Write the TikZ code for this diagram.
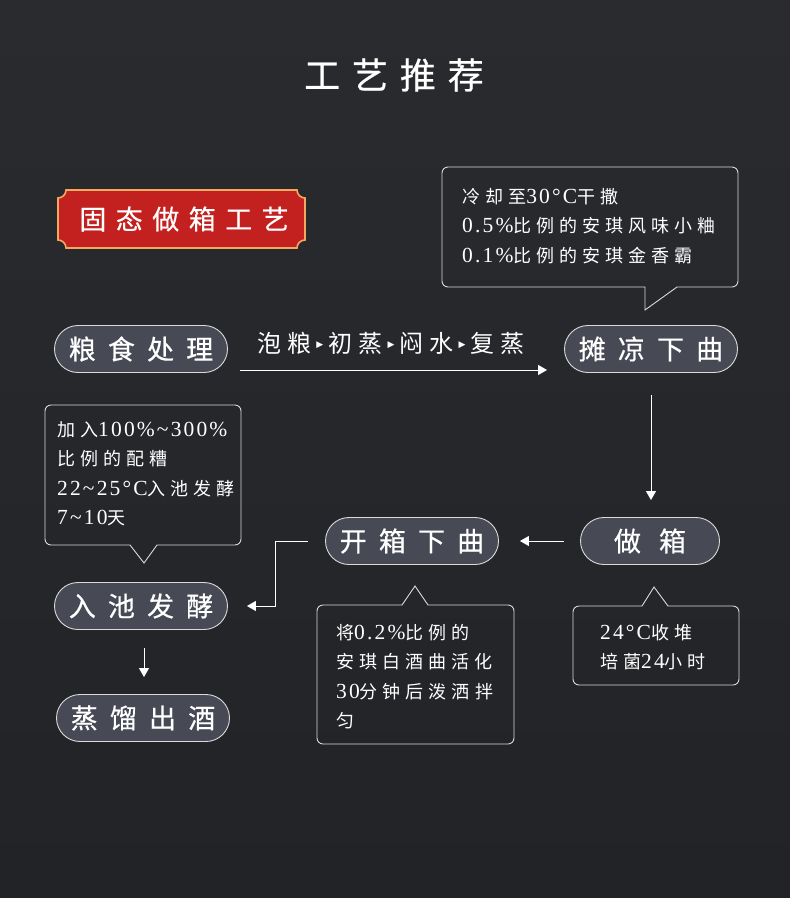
\documentclass[tikz,border=0pt]{standalone}
\usepackage{fontspec}
\setmainfont{Noto Sans CJK SC}
\newfontfamily\symfont{DejaVu Sans}
\newfontfamily\numfont[LetterSpace=10]{Liberation Serif}
\newcommand\nm[1]{{\numfont\fontsize{21.5}{29.5}\selectfont #1}}
\newcommand\tri{\hspace{5pt}\raisebox{5pt}{\symfont\fontsize{9}{9}\selectfont ▶}\hspace{5pt}}
\usepackage{tikz}
\usetikzlibrary{arrows.meta,shapes.misc}
\definecolor{bgtop}{HTML}{2A2B2F}
\definecolor{bgbot}{HTML}{222327}
\definecolor{pillgray}{HTML}{474A55}
\definecolor{linegray}{HTML}{DADADA}
\definecolor{sealred}{HTML}{C3211F}
\definecolor{sealedge}{HTML}{F3A862}

\begin{document}
\begin{tikzpicture}[x=1pt, y=-1pt,
  pill/.style={rounded rectangle, draw=linegray, line width=0.9pt, fill=pillgray, text=white,
    minimum width=173pt, minimum height=47pt, inner sep=0pt,
    font=\fontsize{27}{27}\selectfont\addfontfeature{LetterSpace=45,FakeBold=0.6}},
  arr/.style={draw=white, line width=1pt, -{Triangle[length=9pt,width=10pt]}},
  note/.style={text=white, align=left, anchor=north west, inner sep=0pt,
    font=\fontsize{18}{29.5}\selectfont\addfontfeature{LetterSpace=28}},
  bubble/.style={draw=linegray, line width=0.9pt}]
\shade[top color=bgtop, bottom color=bgbot] (0,0) rectangle (790,898);
\useasboundingbox (0,0) rectangle (790,898);

\node[text=white, font=\fontsize{36}{36}\selectfont\addfontfeature{LetterSpace=33,FakeBold=0.6}] (title) at (394,75) {工艺推荐};

\filldraw[fill=sealred, draw=sealedge, line width=1.6pt]
  (66,190) -- (297,190) .. controls (297,194.4) and (300.6,198) .. (305,198)
  -- (305,240) .. controls (300.6,240) and (297,243.6) .. (297,248)
  -- (66,248) .. controls (66,243.6) and (62.4,240) .. (58,240)
  -- (58,198) .. controls (62.4,198) and (66,194.4) .. (66,190) -- cycle;
\node[text=white, font=\fontsize{27}{27}\selectfont\addfontfeature{LetterSpace=35,FakeBold=0.4}] (seal) at (184,219) {固态做箱工艺};

\node[pill] (A) at (141,349) {粮食处理};
\node[pill] (B) at (651,349) {摊凉下曲};
\node[pill, minimum width=139pt] (C) at (650,541) {做\hspace{18pt}箱};
\node[pill] (D) at (412,541) {开箱下曲};
\node[pill] (E) at (141,606) {入池发酵};
\node[pill] (F) at (143,718) {蒸馏出酒};

\node[text=white, font=\fontsize{24}{24}\selectfont\addfontfeature{LetterSpace=26}] (steps) at (391,343)
  {泡粮\tri 初蒸\tri 闷水\tri 复蒸};

\draw[arr] ([xshift=12pt,yshift=-21pt]A.east) -- ([xshift=-17pt,yshift=-21pt]B.west);
\draw[arr, shorten <=22pt, shorten >=17pt] (B.south) -- (B.south |- C.north);
\draw[arr, shorten <=16pt, shorten >=21pt] (C.west) -- (D.east);
\draw[arr, shorten >=19pt] ([xshift=-17pt]D.west) -- ++(-33,0) |- (E.east);
\draw[arr, shorten <=18pt, shorten >=17pt] ([xshift=3pt]E.south) -- ([xshift=3pt]E.south |- F.north);

\draw[bubble] (645,287) -- (645,310) -- (677,287) [rounded corners=6] -- (738,287) -- (738,167)
  -- (442,167) -- (442,287) [sharp corners] -- cycle;
\draw[bubble] (157,545) -- (144,563) -- (130,545) [rounded corners=6] -- (45,545) -- (45,405)
  -- (241,405) -- (241,545) [sharp corners] -- cycle;
\draw[bubble] (402,605) -- (415,586) -- (428,605) [rounded corners=6] -- (514,605) -- (514,744)
  -- (317,744) -- (317,605) [sharp corners] -- cycle;
\draw[bubble] (642,606) -- (654,587) -- (668,606) [rounded corners=6] -- (739,606) -- (739,685)
  -- (573,685) -- (573,606) [sharp corners] -- cycle;

\node[note] (n1) at (462,188) {冷却至\nm{30°C}干撒\\\nm{0.5\%}比例的安琪风味小粬\\\nm{0.1\%}比例的安琪金香霸};
\node[note] (n2) at (57,421) {加入\nm{100\%\textasciitilde300\%}\\比例的配糟\\\nm{22\textasciitilde25°C}入池发酵\\\nm{7\textasciitilde10}天};
\node[note] (n3) at (336,624) {将\nm{0.2\%}比例的\\安琪白酒曲活化\\\nm{30}分钟后泼洒拌\\匀};
\node[note] (n4) at (600,624) {\nm{24°C}收堆\\培菌\nm{24}小时};
\end{tikzpicture}
\end{document}
